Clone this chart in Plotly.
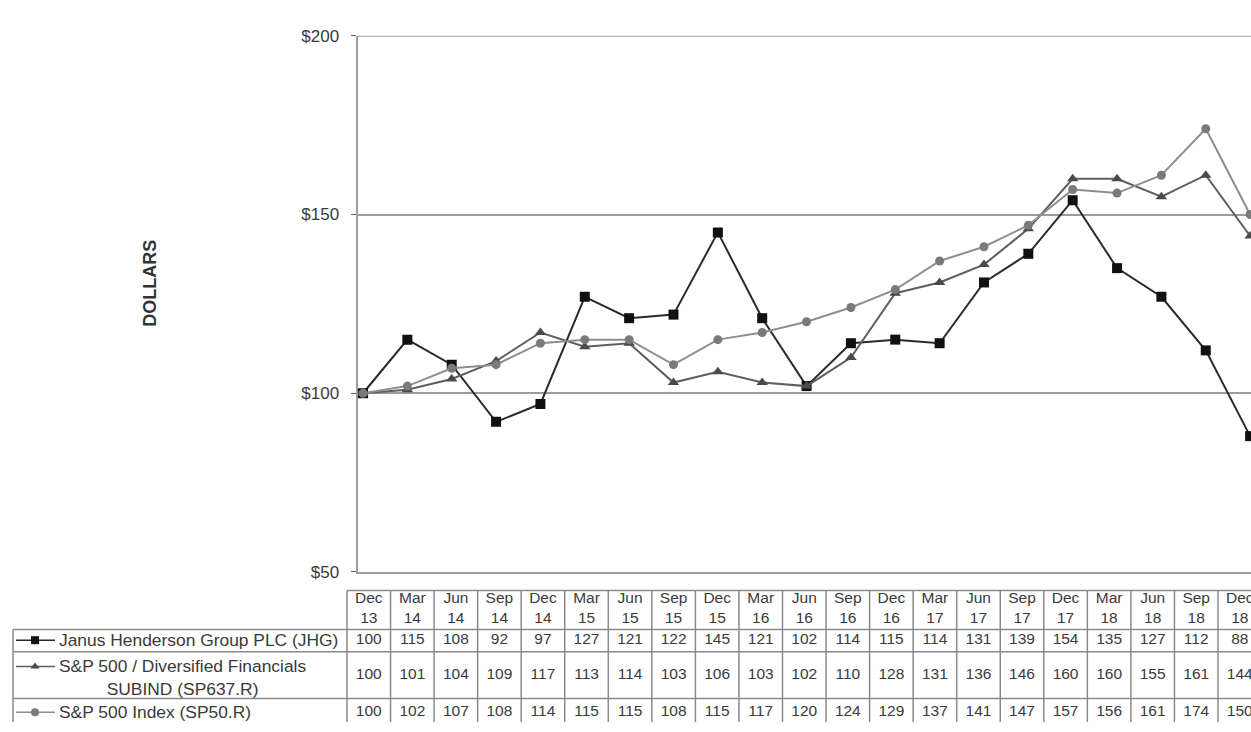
import plotly.graph_objects as go

# ---------------- data ----------------
periods = ["Dec 13", "Mar 14", "Jun 14", "Sep 14", "Dec 14", "Mar 15", "Jun 15",
           "Sep 15", "Dec 15", "Mar 16", "Jun 16", "Sep 16", "Dec 16", "Mar 17",
           "Jun 17", "Sep 17", "Dec 17", "Mar 18", "Jun 18", "Sep 18", "Dec 18"]
jhg = [100, 115, 108, 92, 97, 127, 121, 122, 145, 121, 102, 114, 115, 114, 131,
       139, 154, 135, 127, 112, 88]
sp637 = [100, 101, 104, 109, 117, 113, 114, 103, 106, 103, 102, 110, 128, 131,
         136, 146, 160, 160, 155, 161, 144]
sp50 = [100, 102, 107, 108, 114, 115, 115, 108, 115, 117, 120, 124, 129, 137,
        141, 147, 157, 156, 161, 174, 150]
series_names = ["Janus Henderson Group PLC (JHG)",
                "S&P 500 / Diversified Financials<br>SUBIND (SP637.R)",
                "S&P 500 Index (SP50.R)"]
y_tick_vals = [50, 100, 150, 200]
y_tick_text = ["$50", "$100", "$150", "$200"]
y_title = "DOLLARS"

# ---------------- layout constants ----------------
W, H = 1251, 732
FONT = "Liberation Sans"
TXT = "#3a3a3a"
GRID = "#9c9c9c"
TLINE = "#8a8a8a"

styles = [
    dict(line=dict(color="#2a2a2a", width=2),
         marker=dict(symbol="square", size=10, color="#111111")),
    dict(line=dict(color="#5e5e5e", width=2),
         marker=dict(symbol="triangle-up", size=10, color="#4a4a4a")),
    dict(line=dict(color="#8e8e8e", width=2),
         marker=dict(symbol="circle", size=9, color="#7a7a7a")),
]
series_vals = [jhg, sp637, sp50]

fig = go.Figure()

# main chart lines
for name, vals, st in zip(series_names, series_vals, styles):
    fig.add_trace(go.Scatter(x=periods, y=vals, mode="lines+markers",
                             name=name.replace("<br>", " "), showlegend=False,
                             line=st["line"], marker=st["marker"],
                             xaxis="x", yaxis="y"))

# ---------------- data table ----------------
header_y = 616
row_y = [648, 684, 722]
month = [p.split()[0] for p in periods]
year = [p.split()[1] for p in periods]

fig.add_trace(go.Scatter(x=periods, y=[header_y] * len(periods), mode="text",
                         text=[f"{m}<br>{y}" for m, y in zip(month, year)],
                         textfont=dict(family=FONT, size=15.5, color=TXT),
                         showlegend=False, hoverinfo="skip",
                         xaxis="x2", yaxis="y2"))
for ry, vals in zip(row_y, series_vals):
    fig.add_trace(go.Scatter(x=periods, y=[ry] * len(periods), mode="text",
                             text=[str(v) for v in vals],
                             textfont=dict(family=FONT, size=15.5, color=TXT),
                             showlegend=False, hoverinfo="skip",
                             xaxis="x2", yaxis="y2"))

# legend keys in table
key_y = [648, 675, 722]
for ky, st in zip(key_y, styles):
    fig.add_trace(go.Scatter(x=[16, 55], y=[ky, ky], mode="lines",
                             line=dict(color=st["line"]["color"], width=1.5),
                             showlegend=False, hoverinfo="skip",
                             xaxis="x3", yaxis="y2"))
    fig.add_trace(go.Scatter(x=[35], y=[ky], mode="markers",
                             marker=dict(symbol=st["marker"]["symbol"], size=8,
                                         color=st["marker"]["color"]),
                             showlegend=False, hoverinfo="skip",
                             xaxis="x3", yaxis="y2"))

LEG_SIZE = 17.4
annotations = []
annotations.append(dict(x=57, y=row_y[0], xref="x3", yref="y2", text=series_names[0],
                        showarrow=False, xanchor="left", yanchor="middle",
                        font=dict(family=FONT, size=LEG_SIZE, color=TXT)))
annotations.append(dict(x=182, y=686, xref="x3", yref="y2", text=series_names[1],
                        showarrow=False, xanchor="center", yanchor="middle",
                        align="center",
                        font=dict(family=FONT, size=LEG_SIZE, color=TXT)))
annotations.append(dict(x=57, y=row_y[2], xref="x3", yref="y2", text=series_names[2],
                        showarrow=False, xanchor="left", yanchor="middle",
                        font=dict(family=FONT, size=LEG_SIZE, color=TXT)))
annotations.append(dict(x=150 / W, y=1 - 282 / H, xref="paper", yref="paper",
                        text=f"<b>{y_title}</b>", textangle=-90, showarrow=False,
                        xanchor="center", yanchor="middle",
                        font=dict(family=FONT, size=18, color="#333333")))

shapes = []
# top border of plot area
shapes.append(dict(type="line", xref="x domain", yref="y", x0=0, x1=1,
                   y0=y_tick_vals[-1], y1=y_tick_vals[-1],
                   line=dict(color=GRID, width=2)))
# horizontal table lines
shapes.append(dict(type="line", xref="x3", yref="y2", x0=347, x1=W + 5, y0=597, y1=597,
                   line=dict(color=TLINE, width=1.5)))
for yy in [637, 660, 708]:
    shapes.append(dict(type="line", xref="x3", yref="y2", x0=13, x1=W + 5, y0=yy, y1=yy,
                       line=dict(color=TLINE, width=1.5)))
# legend column left border
shapes.append(dict(type="line", xref="x3", yref="y2", x0=13, x1=13, y0=637, y1=H + 5,
                   line=dict(color=TLINE, width=1.5)))
# column borders
for i in range(len(periods) + 1):
    shapes.append(dict(type="line", xref="x2", yref="y2", x0=i - 0.5, x1=i - 0.5,
                       y0=597, y1=H + 5, line=dict(color=TLINE, width=1.5)))

fig.update_layout(
    width=W, height=H,
    margin=dict(l=0, r=0, t=0, b=0),
    paper_bgcolor="white", plot_bgcolor="rgba(0,0,0,0)",
    showlegend=False,
    xaxis=dict(domain=[357.5 / W, 1], anchor="y", type="category",
               range=[-0.124, 20.02], showgrid=False, showticklabels=False,
               ticks="", showline=True, linecolor=GRID, linewidth=2,
               zeroline=False),
    yaxis=dict(domain=[(H - 578) / H, (H - 27.5) / H], anchor="x",
               range=[50, 200], tickvals=y_tick_vals, ticktext=y_tick_text,
               showgrid=True, gridcolor=GRID, gridwidth=2,
               showline=True, linecolor=GRID, linewidth=2,
               ticks="outside", ticklen=5, tickcolor="#666666",
               ticklabelstandoff=8,
               tickfont=dict(family=FONT, size=17, color=TXT), zeroline=False),
    xaxis2=dict(domain=[0, 1], anchor="y2", type="category",
                categoryorder="array", categoryarray=periods,
                range=[-8.468, 20.258], visible=False),
    xaxis3=dict(domain=[0, 1], anchor="y2", overlaying="x2",
                range=[0, W], visible=False),
    yaxis2=dict(domain=[0, 1], anchor="x2", range=[H, 0], visible=False),
    annotations=annotations,
    shapes=shapes,
)

fig.write_html("out.html")
